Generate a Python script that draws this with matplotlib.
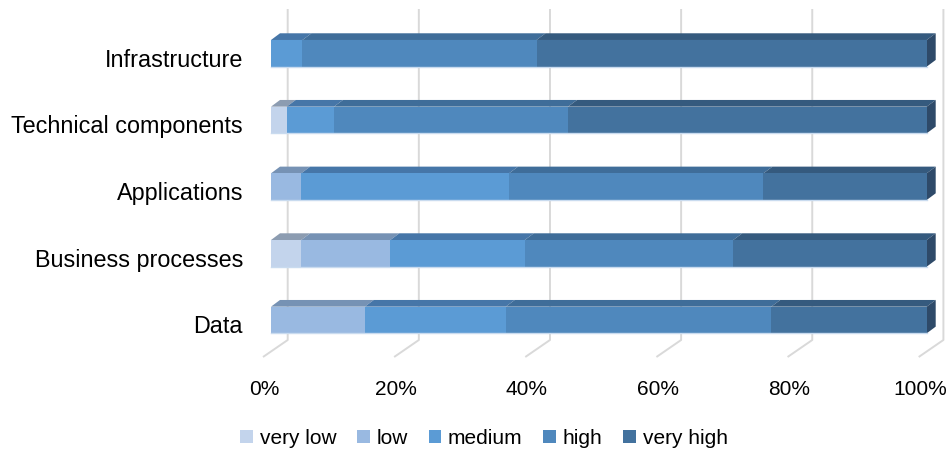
"""3D-style 100% stacked bar chart: rating distribution per architecture layer."""
import matplotlib
matplotlib.use("Agg")
import matplotlib.pyplot as plt
import numpy as np
from matplotlib.patches import Polygon, Patch

# data (percent of each row), categories listed top to bottom
categories = ["Infrastructure", "Technical components", "Applications",
              "Business processes", "Data"]
levels = ["very low", "low", "medium", "high", "very high"]
very_low = [0.0, 2.4, 0.0, 4.6, 0.0]
low = [0.0, 0.0, 4.6, 13.6, 14.3]
medium = [4.8, 7.2, 31.7, 20.5, 21.5]
high = [35.7, 35.7, 38.8, 31.8, 40.5]
very_high = [59.5, 54.7, 24.9, 29.5, 23.7]
xticks = [0, 20, 40, 60, 80, 100]
xtick_labels = ["0%", "20%", "40%", "60%", "80%", "100%"]

# styles
front_cols = ["#c3d4ec", "#99b9e1", "#5b9bd5", "#4f88bd", "#43729e"]
top_cols = ["#8c9cb1", "#7692b4", "#4676a8", "#3f6d99", "#355a7e"]
side_col = "#2e4a69"
grid_col = "#d9d9d9"
FONT = ["Liberation Sans", "DejaVu Sans"]
FS = 15
FS_CAT = 16.8

W, H = 951, 454
PX = 6.557          # pixels per percent
X0 = 271            # pixel position of 0 %
YSTEP = 66.67       # pixels between bar rows
Y0 = 320            # pixel row of lowest bar centre


def dxu(px):
    return px / PX


def dyu(px):
    return px / YSTEP


def ypx(py):
    return (Y0 - py) / YSTEP


fig = plt.figure(figsize=(W / 100, H / 100), dpi=100)
ax = fig.add_axes([0, 0, 1, 1])
ax.set_xlim(-X0 / PX, (W - X0) / PX)
ax.set_ylim(-(H - Y0) / YSTEP, Y0 / YSTEP)
ax.axis("off")

# back-wall gridlines and floor diagonals
back_dx, front_dx = dxu(16.7), dxu(-8)
for v, lab in zip(xticks, xtick_labels):
    ax.plot([v + back_dx, v + back_dx, v + front_dx],
            [ypx(9), ypx(340), ypx(357)],
            color=grid_col, lw=1.4, zorder=1, solid_capstyle="butt")
    ax.text(v + front_dx + dxu(1.5), ypx(395), lab,
            ha="center", va="baseline", fontsize=FS, family=FONT)

series = [very_low, low, medium, high, very_high]
ypos = np.arange(len(categories))[::-1]
bh = 0.4
ddx, ddy = dxu(9), dyu(6.7)

for i, cat in enumerate(categories):
    y = ypos[i]
    left = 0.0
    for s, vals in enumerate(series):
        w = vals[i]
        if w <= 0:
            continue
        ax.barh(y, w, left=left, height=bh, color=front_cols[s],
                linewidth=0, zorder=3)
        top = Polygon([(left, y + bh / 2), (left + w, y + bh / 2),
                       (left + w + ddx, y + bh / 2 + ddy),
                       (left + ddx, y + bh / 2 + ddy)],
                      closed=True, facecolor=top_cols[s], lw=0, zorder=2)
        ax.add_patch(top)
        left += w
    side = Polygon([(left, y - bh / 2), (left, y + bh / 2),
                    (left + ddx, y + bh / 2 + ddy),
                    (left + ddx, y - bh / 2 + ddy)],
                   closed=True, facecolor=side_col, lw=0, zorder=2)
    ax.add_patch(side)
    # faint light edge under each bar
    ax.plot([0, left], [y - bh / 2, y - bh / 2], color="#c9dbef",
            lw=1.0, zorder=4)
    ax.text(dxu(243 - X0), y - dyu(13.4), cat, ha="right", va="baseline",
            fontsize=FS_CAT, family=FONT)

handles = [Patch(facecolor=c, edgecolor="none") for c in front_cols]
fig.legend(handles, levels, loc="center",
           bbox_to_anchor=(484 / W, 1 - 438 / H), ncol=5, frameon=False,
           prop={"family": FONT, "size": FS}, handlelength=0.6,
           handleheight=0.6, handletextpad=0.33, columnspacing=1.0)

fig.savefig("out.png", dpi=100)
plt.close(fig)
